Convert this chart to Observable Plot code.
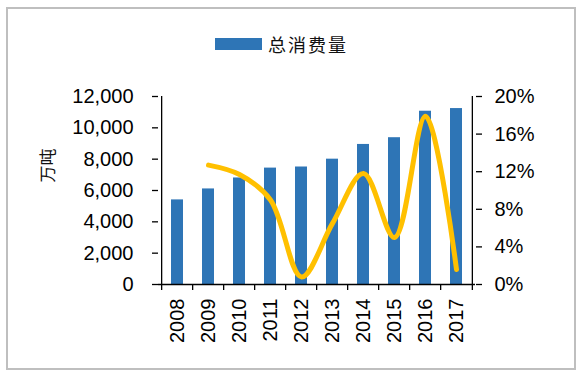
<!DOCTYPE html>
<html>
<head>
<meta charset="utf-8">
<script src="https://cdn.jsdelivr.net/npm/d3@7"></script>
<script src="https://cdn.jsdelivr.net/npm/@observablehq/plot@0.6"></script>
<style>
  html, body { margin: 0; padding: 0; background: #fff; }
  #wrap { position: relative; width: 581px; height: 373px; overflow: hidden; background: #fff; }
  #border { position: absolute; left: 6px; top: 7px; width: 570px; height: 363px; box-sizing: border-box; border: 2px solid #bfbfbf; }
  #legend { position: absolute; left: 215px; top: 32px; height: 24px; display: flex; align-items: center; font-family: "Noto Sans CJK SC", sans-serif; font-size: 18px; color: #111; letter-spacing: 2px; }
  #legend .sw { width: 47px; height: 12px; background: #2E75B6; margin-right: 6px; }
  #chart { position: absolute; left: 0; top: 0; }
</style>
</head>
<body>
<div id="wrap">
  <div id="border"></div>
  <div id="chart"></div>
  <div id="legend"><span class="sw"></span><span>总消费量</span></div>
</div>
<script>
// Data
const years = ["2008","2009","2010","2011","2012","2013","2014","2015","2016","2017"];
const consumption = [5400, 6100, 6800, 7430, 7500, 8000, 8940, 9370, 11060, 11230]; // 万吨
const growthYears = ["2009","2010","2011","2012","2013","2014","2015","2016","2017"];
const growthPct = [12.7, 11.7, 9.0, 0.8, 6.5, 11.8, 5.0, 17.9, 1.6]; // %
const leftTicks = [0, 2000, 4000, 6000, 8000, 10000, 12000];
const rightTicks = [0, 4, 8, 12, 16, 20]; // %
const seriesName = "总消费量";
const yLabel = "万吨";

const leftMax = 12000, rightMax = 20;
const k = leftMax / rightMax; // map % onto left scale

const bars = years.map((y, i) => ({year: y, value: consumption[i]}));
const growth = growthYears.map((y, i) => ({year: y, pct: growthPct[i]}));

const W = 581, H = 373, mL = 158, mR = 106, mT = 96, mB = 89;
const step = (W - mL - mR) / years.length;
const tickLen = leftMax * 6 / (H - mT - mB);

const plot = Plot.plot({
  width: W,
  height: H,
  marginLeft: mL,
  marginRight: mR,
  marginTop: mT,
  marginBottom: mB,
  style: {fontFamily: "'Liberation Sans', Arial, sans-serif", fontSize: "20px", color: "#000", background: "transparent"},
  x: {domain: years, paddingInner: 0.62, paddingOuter: 0.31, label: null},
  y: {domain: [0, leftMax], label: null},
  marks: [
    Plot.barY(bars, {x: "year", y: "value", fill: "#2E75B6"}),
    Plot.line(growth, {x: "year", y: d => d.pct * k, stroke: "#FFC000", strokeWidth: 5, curve: "catmull-rom", strokeLinecap: "round"}),
    // axis lines
    Plot.ruleY([0], {stroke: "#000", strokeWidth: 1.3}),
    Plot.ruleX([years[0]], {x: d => d, y1: 0, y2: leftMax, dx: -step / 2, stroke: "#000", strokeWidth: 1.3}),
    Plot.ruleX([years[years.length - 1]], {x: d => d, y1: 0, y2: leftMax, dx: step / 2, stroke: "#000", strokeWidth: 1.3}),
    // category boundary ticks on x axis
    Plot.ruleX(years, {x: d => d, y1: 0, y2: -tickLen, dx: -step / 2, stroke: "#000", strokeWidth: 1.3}),
    Plot.ruleX([years[years.length - 1]], {x: d => d, y1: 0, y2: -tickLen, dx: step / 2, stroke: "#000", strokeWidth: 1.3}),
    Plot.axisX({tickSize: 0, tickPadding: 14, tickRotate: -90, fontSize: 20}),
    Plot.axisY({anchor: "left", ticks: leftTicks, tickSize: 6, tickPadding: 19, tickFormat: d3.format(","), label: null, fontSize: 20, strokeWidth: 1.3}),
    Plot.axisY({anchor: "right", ticks: rightTicks.map(p => p * k), tickSize: 6, tickPadding: 13, tickFormat: v => Math.round(v / k) + "%", label: null, fontSize: 20, strokeWidth: 1.3}),
    Plot.text([yLabel], {frameAnchor: "left", text: d => d, rotate: -90, dx: -110, dy: -8, fontSize: 17, fontFamily: "'Noto Sans CJK SC', sans-serif", fill: "#111"})
  ]
});
document.getElementById("chart").appendChild(plot);
</script>
</body>
</html>
